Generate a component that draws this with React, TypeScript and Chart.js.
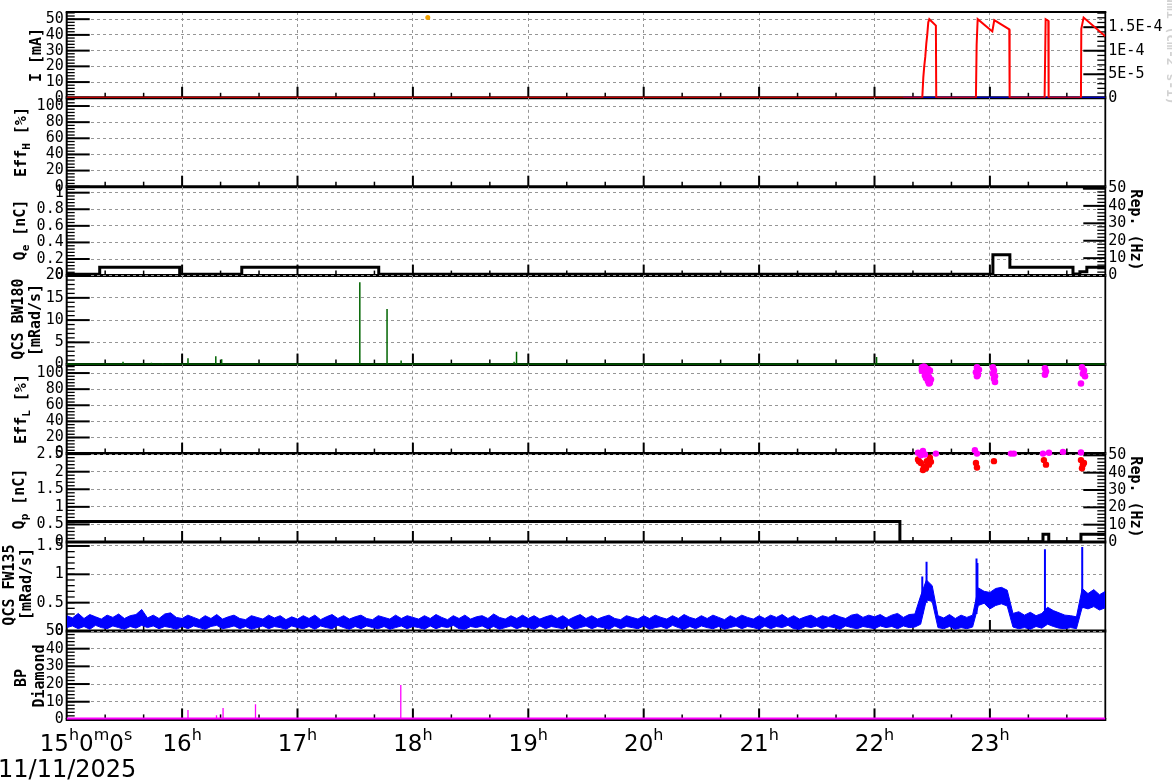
import React, { useEffect, useRef } from "react";
import { Chart, registerables } from "chart.js";

Chart.register(...registerables);

// ---------------- data ----------------
const T_MIN = 15;
const T_MAX = 24;
const hourTicks = [15, 16, 17, 18, 19, 20, 21, 22, 23];
const hourLabels = ["15", "16", "17", "18", "19", "20", "21", "22", "23"];
const firstLabelRest = ["0", "0"];
const dateLabel = "11/11/2025";

// Panel 1 : I [mA] (left), luminosity (right)
const currentTimes = [15, 22.414, 22.423, 22.431, 22.44, 22.449, 22.457, 22.466, 22.475, 22.532, 22.535, 22.879, 22.885, 22.894, 23.021, 23.038, 23.168, 23.171, 23.474, 23.483, 23.506, 23.509, 23.789, 23.792, 23.812, 24.0];
const currentValues = [0, 0, 13, 20, 26, 34.6, 40, 48, 50, 45.9, 0, 0, 33.6, 50, 42.2, 49.4, 43.5, 0, 0, 50, 49, 0, 0, 43.8, 51, 39.1];
const lumiTimes = [22.25, 24];
const lumiValues = [0, 0];
const strayTimes = [18.129];
const strayValues = [51];

// Panel 3 : Q_e [nC] (left), Rep. (Hz) (right)
const qeTimes = [15, 15.286, 15.979, 16.517, 17.704, 23.026, 23.173, 23.72, 23.78, 23.84, 24];
const qeValues = [0.015, 0.1, 0.015, 0.1, 0.015, 0.25, 0.1, 0.02, 0.045, 0.1, 0.1];
const qeRepTimes = [23.806, 24];
const qeRepValues = [50.3, 50.3];

// Panel 4 : QCS BW180 [mRad/s]
const bw180Base = 0;
const bw180SpikeTimes = [15.488, 15.734, 15.832, 16.051, 16.292, 16.343, 17.54, 17.776, 17.898, 18.877, 18.898, 22.018];
const bw180SpikeValues = [0.65, 0.4, 0.3, 1.4, 1.9, 1.2, 18.5, 12.5, 0.9, 0.65, 2.9, 1.7];

// Panel 5 : Eff_L [%]
const effLTimes = [22.411, 22.437, 22.463, 22.411, 22.454, 22.48, 22.437, 22.472, 22.489, 22.446, 22.463, 22.48, 22.428, 22.472, 22.888, 22.905, 22.879, 22.896, 22.888, 23.026, 23.035, 23.026, 23.044, 23.035, 23.044, 23.477, 23.486, 23.477, 23.798, 23.815, 23.806, 23.824, 23.789];
const effLValues = [107, 107, 105, 103, 100, 103, 97, 95, 92, 94, 90, 88, 108, 87, 107, 104, 101, 98, 96, 107, 103, 99, 96, 93, 89, 106, 102, 98, 107, 103, 99, 96, 87];

// Panel 6 : Q_p [nC] (left), Rep. (Hz) (right)
const qpTimes = [15, 22.22, 23.46, 23.51, 23.789, 24];
const qpValues = [0.58, 0.01, 0.22, 0.01, 0.22, 0.22];
const qpDotTimes = [22.377, 22.402, 22.428, 22.454, 22.48, 22.472, 22.42, 22.446, 22.385, 22.489, 22.879, 22.888, 23.035, 23.468, 23.486, 23.789, 23.806, 23.815, 23.798];
const qpDotValues = [2.35, 2.25, 2.15, 2.3, 2.4, 2.2, 2.05, 2.1, 2.3, 2.28, 2.25, 2.12, 2.3, 2.33, 2.2, 2.33, 2.2, 2.25, 2.1];
const qpRepTimes = [22.377, 22.394, 22.42, 22.437, 22.402, 22.532, 22.87, 22.888, 23.182, 23.208, 23.468, 23.46, 23.512, 23.633, 23.789];
const qpRepValues = [51.5, 53.5, 52.5, 50.5, 50, 51, 53, 51, 51, 51, 56, 51, 51.5, 52, 51.6];

// Panel 7 : QCS FW135 [mRad/s] — min/max envelope every 3 minutes from 15:00
const fw135StartHour = 15;
const fw135StepMinutes = 3;
const fw135High = [
  0.27, 0.23, 0.31, 0.22, 0.29, 0.25, 0.21, 0.28, 0.24, 0.3, 0.22, 0.27, 0.29, 0.38, 0.23, 0.28, 0.22, 0.3, 0.32, 0.24,
  0.22, 0.28, 0.24, 0.2, 0.27, 0.22, 0.29, 0.21, 0.25, 0.28, 0.22, 0.2, 0.27, 0.24, 0.21, 0.28, 0.23, 0.27, 0.2, 0.25,
  0.21, 0.27, 0.22, 0.28, 0.2, 0.25, 0.29, 0.22, 0.27, 0.21, 0.25, 0.28, 0.22, 0.2, 0.27, 0.24, 0.21, 0.28, 0.22, 0.27,
  0.24, 0.21, 0.27, 0.22, 0.29, 0.24, 0.2, 0.27, 0.22, 0.28, 0.21, 0.25, 0.27, 0.22, 0.3, 0.24, 0.21, 0.27, 0.22, 0.28,
  0.22, 0.27, 0.21, 0.25, 0.28, 0.22, 0.27, 0.2, 0.25, 0.29, 0.22, 0.27, 0.21, 0.25, 0.28, 0.22, 0.2, 0.27, 0.24, 0.21,
  0.27, 0.22, 0.28, 0.24, 0.21, 0.27, 0.22, 0.29, 0.24, 0.21, 0.27, 0.22, 0.28, 0.24, 0.2, 0.27, 0.22, 0.28, 0.24, 0.21,
  0.27, 0.22, 0.28, 0.24, 0.29, 0.22, 0.27, 0.21, 0.25, 0.28, 0.22, 0.27, 0.24, 0.29, 0.25, 0.22, 0.28, 0.3, 0.24, 0.28,
  0.25, 0.29, 0.23, 0.28, 0.31, 0.24, 0.29,
  0.3, 0.62, 0.9, 0.8, 0.27, 0.23, 0.29, 0.22, 0.28, 0.24, 0.28, 0.76, 0.7, 0.68, 0.75, 0.77, 0.72, 0.31, 0.34, 0.28,
  0.33, 0.27, 0.31, 0.42, 0.36, 0.32, 0.28, 0.27, 0.25, 0.75, 0.66, 0.73, 0.64, 0.7,
];
const fw135Low = [
  0.06, 0.09, 0.04, 0.08, 0.03, 0.1, 0.06, 0.04, 0.09, 0.06, 0.03, 0.08, 0.05, 0.1, 0.06, 0.09, 0.04, 0.08, 0.06, 0.03,
  0.08, 0.04, 0.09, 0.06, 0.03, 0.08, 0.1, 0.04, 0.06, 0.09, 0.04, 0.08, 0.03, 0.06, 0.09, 0.04, 0.08, 0.06, 0.03, 0.09,
  0.06, 0.04, 0.08, 0.03, 0.09, 0.06, 0.04, 0.1, 0.06, 0.03, 0.08, 0.04, 0.09, 0.06, 0.04, 0.08, 0.03, 0.06, 0.09, 0.04,
  0.08, 0.06, 0.03, 0.09, 0.04, 0.08, 0.06, 0.1, 0.04, 0.03, 0.08, 0.06, 0.09, 0.04, 0.08, 0.03, 0.06, 0.09, 0.04, 0.08,
  0.06, 0.03, 0.09, 0.04, 0.08, 0.06, 0.04, 0.1, 0.03, 0.06, 0.09, 0.04, 0.08, 0.06, 0.03, 0.09, 0.04, 0.08, 0.06, 0.04,
  0.09, 0.03, 0.06, 0.08, 0.04, 0.1, 0.06, 0.03, 0.08, 0.04, 0.09, 0.06, 0.04, 0.08, 0.03, 0.06, 0.09, 0.04, 0.08, 0.06,
  0.03, 0.09, 0.04, 0.08, 0.06, 0.1, 0.04, 0.03, 0.08, 0.06, 0.09, 0.04, 0.08, 0.06, 0.03, 0.09, 0.06, 0.04, 0.08, 0.06,
  0.04, 0.09, 0.06, 0.08, 0.04, 0.09, 0.06,
  0.07, 0.12, 0.55, 0.52, 0.06, 0.04, 0.08, 0.03, 0.06, 0.04, 0.07, 0.45, 0.49, 0.39, 0.45, 0.48, 0.44, 0.07, 0.04, 0.06,
  0.03, 0.08, 0.05, 0.12, 0.08, 0.05, 0.04, 0.06, 0.04, 0.42, 0.39, 0.43, 0.37, 0.41,
];
const fw135SpikeTimes = [22.414, 22.451, 22.884, 22.892, 23.477, 23.8];
const fw135SpikePeaks = [0.96, 1.22, 1.28, 1.2, 1.44, 1.48];
const fw135SpikeBases = [0.3, 0.5, 0.3, 0.6, 0.3, 0.4];

// Panel 8 : BP Diamond
const bpBase = 0.4;
const bpSpikeTimes = [16.051, 16.298, 16.355, 16.636, 17.895];
const bpSpikeValues = [5.3, 2.4, 6.4, 8.6, 19.4];

// ---------------- layout & style ----------------
const PAGE_W = 1172;
const PAGE_H = 782;
const LEFT_W = 66.7;
const RIGHT_W = PAGE_W - 1105.3;
const BOUNDS = [9.3, 97.8, 186.7, 275.6, 364.6, 453.6, 542, 631, 719.4];
const GRID = "rgb(150,150,150)";
const MONO = '"DejaVu Sans Mono", monospace';
const SANS = '"DejaVu Sans", sans-serif';
const TITLE_FONT = `bold 15px ${MONO}`;
const SUB_FONT = `bold 11px ${MONO}`;
const RED = "#ff0000";
const BLUE = "#0000ff";
const GREEN = "#006400";
const MAGENTA = "#ff00ff";
const ORANGE = "#f0a000";

const pts = (ts: number[], vs: number[]) => ts.map((t, i) => ({ x: t, y: vs[i] }));
const flat = (base: number) => [{ x: T_MIN, y: base }, { x: T_MAX, y: base }];
const spikeLine = (base: number, ts: number[], vs: number[]) => {
  const out: any[] = [{ x: T_MIN, y: base }];
  ts.forEach((t, i) => out.push({ x: t, y: base }, { x: t, y: vs[i] }, { x: t, y: base }));
  out.push({ x: T_MAX, y: base });
  return out;
};
const spikeSegments = (ts: number[], peaks: number[], bases: number[]) => {
  const out: any[] = [];
  ts.forEach((t, i) => out.push({ x: t, y: bases[i] }, { x: t, y: peaks[i] }, { x: t, y: null }));
  return out;
};
const fw135Times = fw135High.map((_, i) => fw135StartHour + (i * fw135StepMinutes) / 60);

const fmtE = (v: number) => {
  if (Math.abs(v) < 1e-12) return "0";
  const e = Math.floor(Math.log10(v) + 1e-9);
  const m = +(v / Math.pow(10, e)).toFixed(2);
  return `${m}E${e}`;
};
const fmtPlain = (v: number) => String(parseFloat(v.toFixed(6)));

const line = (data: any[], color: string, width: number, extra: any = {}) => ({
  data, showLine: true, borderColor: color, backgroundColor: color, borderWidth: width, pointRadius: 0, ...extra,
});
const dots = (data: any[], color: string, r: number, extra: any = {}) => ({
  data, showLine: false, backgroundColor: color, borderColor: color, borderWidth: 0, pointRadius: r, clip: false, ...extra,
});

type Part = { text: string; sub?: boolean };
type Title = { parts: Part[]; x: number; y: number };
type Axis = { min: number; max: number; step: number; minor: number; fmt?: (v: number) => string };
type Spec = {
  top: number; bottom: number; left: Axis; right?: Axis; titles: Title[]; rightTitles?: Title[];
  faint?: Title; first?: boolean; last?: boolean; datasets: () => any[];
};

const T = (text: string, x: number, y: number): Title => ({ parts: [{ text }], x, y });
const REP: Axis = { min: 0, max: 51, step: 10, minor: 2 };

const PANELS: Spec[] = [
  {
    top: BOUNDS[0], bottom: BOUNDS[1], first: true,
    left: { min: 0, max: 54.56, step: 10, minor: 2 },
    right: { min: 0, max: 1.823e-4, step: 5e-5, minor: 1e-5, fmt: fmtE },
    titles: [T("I [mA]", 37, 55)],
    faint: T("Lumi (cm-2 s-1)", 1170, 46),
    datasets: () => [
      dots(pts(strayTimes, strayValues), ORANGE, 2.5),
      line(pts(currentTimes, currentValues), RED, 2),
      line(pts(lumiTimes, lumiValues), BLUE, 2.2, { yAxisID: "y2" }),
    ],
  },
  {
    top: BOUNDS[1], bottom: BOUNDS[2],
    left: { min: 0, max: 110.2, step: 20, minor: 4 },
    titles: [{ parts: [{ text: "Eff" }, { text: "H", sub: true }, { text: " [%]" }], x: 22, y: 142 }],
    datasets: () => [],
  },
  {
    top: BOUNDS[2], bottom: BOUNDS[3],
    left: { min: 0, max: 1.072, step: 0.2, minor: 0.04 },
    right: REP,
    titles: [{ parts: [{ text: "Q" }, { text: "e", sub: true }, { text: " [nC]" }], x: 21, y: 230 }],
    rightTitles: [T("Rep. (Hz)", 1135, 230)],
    datasets: () => [
      line(pts(qeTimes, qeValues), "#000", 3, { stepped: "before" }),
      line(pts(qeRepTimes, qeRepValues), "#000", 3, { yAxisID: "y2" }),
    ],
  },
  {
    top: BOUNDS[3], bottom: BOUNDS[4],
    left: { min: 0, max: 20, step: 5, minor: 1 },
    titles: [T("QCS BW180", 19, 319), T("[mRad/s]", 36, 320)],
    datasets: () => [
      line(flat(bw180Base), GREEN, 2.2),
      line(spikeLine(bw180Base, bw180SpikeTimes, bw180SpikeValues), GREEN, 1.5),
    ],
  },
  {
    top: BOUNDS[4], bottom: BOUNDS[5],
    left: { min: 0, max: 110.5, step: 20, minor: 4 },
    titles: [{ parts: [{ text: "Eff" }, { text: "L", sub: true }, { text: " [%]" }], x: 22, y: 409 }],
    datasets: () => [dots(pts(effLTimes, effLValues), MAGENTA, 3.3)],
  },
  {
    top: BOUNDS[5], bottom: BOUNDS[6],
    left: { min: 0, max: 2.515, step: 0.5, minor: 0.1 },
    right: REP,
    titles: [{ parts: [{ text: "Q" }, { text: "p", sub: true }, { text: " [nC]" }], x: 20.5, y: 499 }],
    rightTitles: [T("Rep. (Hz)", 1135, 497)],
    datasets: () => [
      dots(pts(qpRepTimes, qpRepValues), MAGENTA, 3.2, { yAxisID: "y2" }),
      dots(pts(qpDotTimes, qpDotValues), RED, 3.2),
      line(pts(qpTimes, qpValues), "#000", 3, { stepped: "before" }),
    ],
  },
  {
    top: BOUNDS[6], bottom: BOUNDS[7],
    left: { min: 0, max: 1.57, step: 0.5, minor: 0.1 },
    titles: [T("QCS FW135", 10, 585), T("[mRad/s]", 27, 584)],
    datasets: () => [
      line(spikeSegments(fw135SpikeTimes, fw135SpikePeaks, fw135SpikeBases), BLUE, 2, { spanGaps: false }),
      line(pts(fw135Times, fw135Low), BLUE, 1),
      line(pts(fw135Times, fw135High), BLUE, 1, { fill: "-1" }),
    ],
  },
  {
    top: BOUNDS[7], bottom: BOUNDS[8], last: true,
    left: { min: 0, max: 50, step: 10, minor: 2 },
    titles: [T("BP", 22, 678), T("Diamond", 40, 676)],
    datasets: () => [
      line(flat(bpBase), MAGENTA, 2.4),
      line(spikeLine(bpBase, bpSpikeTimes, bpSpikeValues), MAGENTA, 1.3),
    ],
  },
];

// ---------------- drawing helpers ----------------
function drawParts(ctx: CanvasRenderingContext2D, parts: Part[], cx: number, cy: number, angle: number, color = "#000", font = TITLE_FONT) {
  ctx.save();
  ctx.translate(cx, cy);
  ctx.rotate(angle);
  ctx.fillStyle = color;
  ctx.textBaseline = "middle";
  ctx.textAlign = "left";
  const widths = parts.map((p) => {
    ctx.font = p.sub ? SUB_FONT : font;
    return ctx.measureText(p.text).width;
  });
  const total = widths.reduce((a, b) => a + b, 0);
  let x = -total / 2;
  parts.forEach((p, i) => {
    ctx.font = p.sub ? SUB_FONT : font;
    ctx.fillText(p.text, x, p.sub ? 5 : 0);
    x += widths[i];
  });
  ctx.restore();
}

function drawYTicks(ctx: CanvasRenderingContext2D, scale: any, a: any, side: "left" | "right", minor: number) {
  const x0 = side === "left" ? a.left : a.right;
  const dir = side === "left" ? 1 : -1;
  const n = Math.floor((scale.max - scale.min) / minor + 1e-6);
  ctx.lineWidth = 1.3;
  for (let k = 0; k <= n; k++) {
    const y = scale.getPixelForValue(scale.min + k * minor);
    ctx.beginPath();
    ctx.moveTo(x0, y);
    ctx.lineTo(x0 + dir * 8, y);
    ctx.stroke();
  }
  ctx.lineWidth = 2;
  for (const t of scale.ticks) {
    const y = scale.getPixelForValue(t.value);
    ctx.beginPath();
    ctx.moveTo(x0, y);
    ctx.lineTo(x0 + dir * (side === "left" ? 23 : 22), y);
    ctx.stroke();
  }
}

function drawTimeLabels(chart: any, canvasTop: number) {
  const ctx: CanvasRenderingContext2D = chart.ctx;
  const xs = chart.scales.x;
  const big = `23px ${SANS}`;
  const sup = `16px ${SANS}`;
  ctx.save();
  ctx.fillStyle = "#000";
  ctx.textAlign = "left";
  ctx.textBaseline = "alphabetic";
  hourTicks.forEach((h, i) => {
    const parts: [string, boolean][] =
      i === 0
        ? [[hourLabels[0], false], ["h", true], [firstLabelRest[0], false], ["m", true], [firstLabelRest[1], false], ["s", true]]
        : [[hourLabels[i], false], ["h", true]];
    const ws = parts.map(([t, s]) => {
      ctx.font = s ? sup : big;
      return ctx.measureText(t).width;
    });
    const total = ws.reduce((a, b) => a + b, 0);
    const px = xs.getPixelForValue(h);
    let x = i === 0 ? px - 27 : px - total / 2;
    parts.forEach(([t, s], k) => {
      ctx.font = s ? sup : big;
      ctx.fillText(t, x, (s ? 740 : 751) - canvasTop);
      x += ws[k];
    });
  });
  ctx.font = `24px ${SANS}`;
  ctx.fillText(dateLabel, -2, 777 - canvasTop);
  ctx.restore();
}

function framePlugin(spec: Spec, canvasTop: number) {
  return {
    id: "rootFrame",
    beforeDatasetsDraw(chart: any) {
      const ctx: CanvasRenderingContext2D = chart.ctx;
      const a = chart.chartArea;
      const xs = chart.scales.x;
      ctx.save();
      ctx.strokeStyle = "#000";
      ctx.setLineDash([]);
      for (let k = 1; k < (T_MAX - T_MIN) * 3; k++) {
        const major = k % 3 === 0;
        const px = xs.getPixelForValue(T_MIN + k / 3);
        ctx.lineWidth = major ? 2 : 1.5;
        ctx.beginPath();
        ctx.moveTo(px, a.bottom);
        ctx.lineTo(px, a.bottom - (major ? 11 : 5));
        ctx.stroke();
      }
      drawYTicks(ctx, chart.scales.y, a, "left", spec.left.minor);
      if (spec.right) drawYTicks(ctx, chart.scales.y2, a, "right", spec.right.minor);
      ctx.lineWidth = 2;
      ctx.beginPath();
      ctx.moveTo(a.left, a.top);
      ctx.lineTo(a.left, a.bottom);
      ctx.stroke();
      ctx.lineWidth = 1.8;
      ctx.beginPath();
      ctx.moveTo(a.right, a.top);
      ctx.lineTo(a.right, a.bottom);
      ctx.stroke();
      ctx.lineWidth = 3;
      ctx.beginPath();
      ctx.moveTo(a.left - 1, a.bottom);
      ctx.lineTo(a.right + 1, a.bottom);
      ctx.stroke();
      if (spec.first) {
        ctx.lineWidth = 2;
        ctx.beginPath();
        ctx.moveTo(a.left - 1, a.top);
        ctx.lineTo(a.right + 1, a.top);
        ctx.stroke();
      }
      ctx.restore();
    },
    afterDraw(chart: any) {
      const ctx: CanvasRenderingContext2D = chart.ctx;
      spec.titles.forEach((t) => drawParts(ctx, t.parts, t.x, t.y - canvasTop, -Math.PI / 2));
      (spec.rightTitles || []).forEach((t) => drawParts(ctx, t.parts, t.x, t.y - canvasTop, Math.PI / 2));
      if (spec.faint) drawParts(ctx, spec.faint.parts, spec.faint.x, spec.faint.y - canvasTop, Math.PI / 2, "#d2d2d2", `bold 13px ${MONO}`);
      if (spec.last) drawTimeLabels(chart, canvasTop);
    },
  };
}

function yScale(ax: Axis, position: "left" | "right", grid: boolean) {
  const fmt = ax.fmt || fmtPlain;
  return {
    type: "linear",
    axis: "y",
    position,
    min: ax.min,
    max: ax.max,
    afterFit: (s: any) => {
      s.width = position === "left" ? LEFT_W : RIGHT_W;
    },
    ticks: {
      stepSize: ax.step,
      autoSkip: false,
      includeBounds: false,
      padding: 3,
      color: "#000",
      font: { family: MONO, size: 15 },
      callback: (v: any) => fmt(Number(v)),
    },
    grid: { display: grid, color: GRID, lineWidth: 1, drawTicks: false },
    border: { display: false, dash: [3, 3] },
  };
}

function Panel({ spec }: { spec: Spec }) {
  const ref = useRef<HTMLCanvasElement>(null);
  const canvasTop = spec.first ? 0 : Math.floor(spec.top) - 16;
  const canvasBottom = spec.last ? PAGE_H : Math.ceil(spec.bottom) + 16;
  const h = canvasBottom - canvasTop;
  useEffect(() => {
    const scales: any = {
      x: {
        type: "linear",
        min: T_MIN,
        max: T_MAX,
        afterFit: (s: any) => {
          s.height = 0;
        },
        ticks: { display: false, stepSize: 1 },
        grid: { color: GRID, lineWidth: 1, drawTicks: false },
        border: { display: false, dash: [3, 3] },
      },
      y: yScale(spec.left, "left", true),
    };
    if (spec.right) scales.y2 = yScale(spec.right, "right", false);
    const chart = new Chart(ref.current as HTMLCanvasElement, {
      type: "scatter",
      data: { datasets: spec.datasets() },
      options: {
        responsive: false,
        animation: false,
        devicePixelRatio: 1,
        events: [],
        layout: {
          padding: {
            top: spec.top - canvasTop,
            bottom: canvasBottom - spec.bottom,
            left: 0,
            right: spec.right ? 0 : RIGHT_W,
          },
        },
        plugins: { legend: { display: false }, tooltip: { enabled: false }, title: { display: false } },
        scales,
      } as any,
      plugins: [framePlugin(spec, canvasTop) as any],
    });
    return () => chart.destroy();
  }, []);
  return (
    <canvas
      ref={ref}
      width={PAGE_W}
      height={h}
      style={{ position: "absolute", left: 0, top: canvasTop, width: PAGE_W, height: h }}
    />
  );
}

export default function App() {
  return (
    <div style={{ position: "absolute", left: 0, top: 0, width: PAGE_W, height: PAGE_H, background: "#fff", overflow: "hidden" }}>
      {PANELS.map((p, i) => (
        <Panel key={i} spec={p} />
      ))}
    </div>
  );
}
